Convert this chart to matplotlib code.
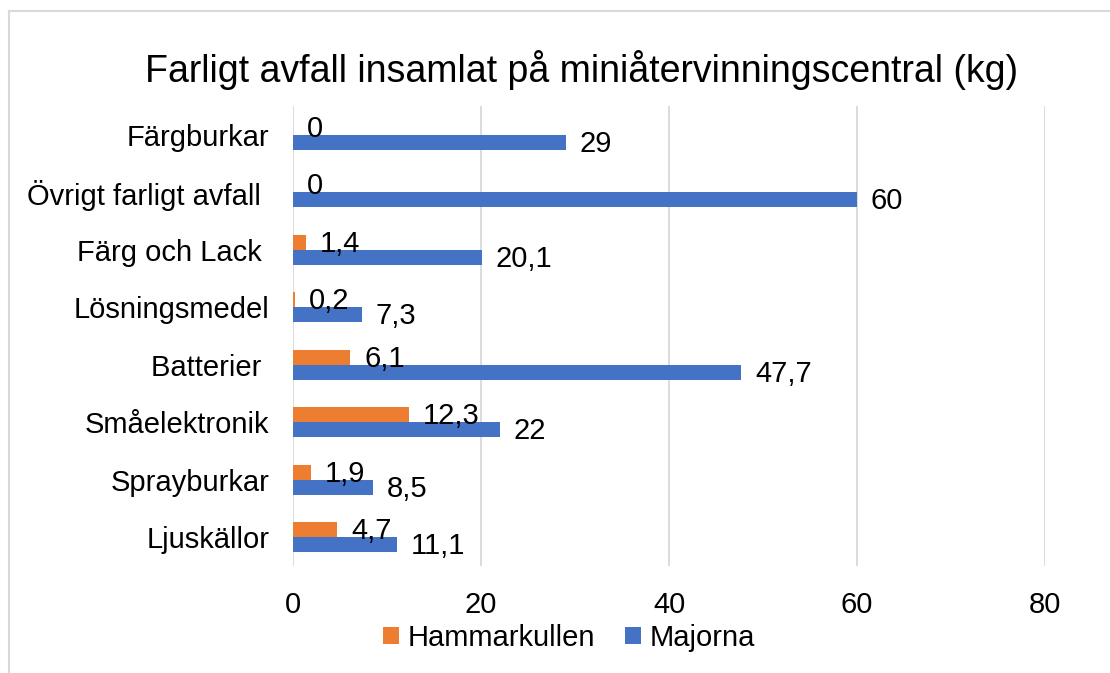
import matplotlib.pyplot as plt
import numpy as np
from matplotlib.lines import Line2D

categories = ["Färgburkar", "Övrigt farligt avfall ", "Färg och Lack ", "Lösningsmedel",
              "Batterier ", "Småelektronik", "Sprayburkar", "Ljuskällor"]
hammarkullen = [0, 0, 1.4, 0.2, 6.1, 12.3, 1.9, 4.7]
majorna = [29, 60, 20.1, 7.3, 47.7, 22, 8.5, 11.1]
xticks = [0, 20, 40, 60, 80]

orange = "#ED7D31"
blue = "#4472C4"
grid = "#D9D9D9"

plt.rcParams['font.family'] = ['Liberation Sans', 'DejaVu Sans']

fig = plt.figure(figsize=(11.1, 6.73), dpi=100)
ax = fig.add_axes([293 / 1110, 1 - 566 / 673, (1045 - 293) / 1110, (566 - 106) / 673])

y = np.arange(len(categories))
h = 0.262
ax.barh(y - h / 2, hammarkullen, height=h, color=orange, label="Hammarkullen", zorder=3)
ax.barh(y + h / 2, majorna, height=h, color=blue, label="Majorna", zorder=3)

def fmt(v):
    return f"{v:g}".replace('.', ',')

for yi, v in zip(y - h / 2, hammarkullen):
    ax.annotate(fmt(v), xy=(v, yi), xytext=(10, -1), textcoords='offset points',
                va='center', ha='left', fontsize=21, zorder=4)
for yi, v in zip(y + h / 2, majorna):
    ax.annotate(fmt(v), xy=(v, yi), xytext=(10, -1), textcoords='offset points',
                va='center', ha='left', fontsize=21, zorder=4)

ax.set_xlim(0, 80)
ax.set_ylim(len(categories) - 0.5, -0.5)
ax.set_xticks(xticks)
ax.set_xticklabels([str(t) for t in xticks], fontsize=21)
ax.set_yticks(y)
ax.set_yticklabels(categories, fontsize=21)
ax.tick_params(axis='x', length=0, pad=18)
ax.tick_params(axis='y', length=0, pad=17)
ax.grid(axis='x', color=grid, linewidth=1.3, zorder=0)
for s in ax.spines.values():
    s.set_visible(False)
ax.patch.set_alpha(0)

fig.text(582 / 1110, 1 - 70 / 673, "Farligt avfall insamlat på miniåtervinningscentral (kg)",
         ha='center', va='center', fontsize=27)

fig.legend(loc='center', bbox_to_anchor=(569 / 1110, 1 - 638 / 673), ncol=2, frameon=False,
           fontsize=21, handlelength=0.55, handleheight=0.55, handletextpad=0.3,
           columnspacing=1.0, borderpad=0)

# chart border
fig.add_artist(Line2D([9 / 1110, 9 / 1110], [0, 1 - 11 / 673], transform=fig.transFigure,
                      color=grid, linewidth=1.5))
fig.add_artist(Line2D([9 / 1110, 1], [1 - 11 / 673, 1 - 11 / 673], transform=fig.transFigure,
                      color=grid, linewidth=1.5))

fig.savefig("out.png", dpi=100)
